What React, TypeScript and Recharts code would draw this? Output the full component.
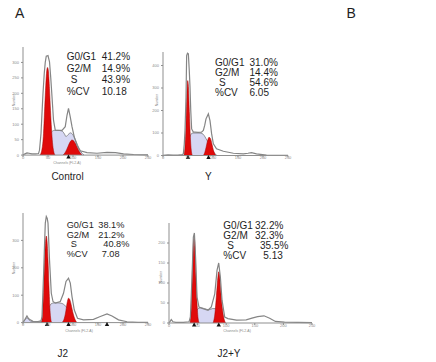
import React from "react";
import { Area, ComposedChart, Line, Scatter, XAxis, YAxis } from "recharts";

type Pt = [number, number];

const statLabels = ["G0/G1", "G2/M", "S", "%CV"];
const controlStats = ["41.2%", "14.9%", "43.9%", "10.18"];
const yStats = ["31.0%", "14.4%", "54.6%", "6.05"];
const j2Stats = ["38.1%", "21.2%", "40.8%", "7.08"];
const j2yStats = ["32.2%", "32.3%", "35.5%", "5.13"];

const channelTicks = [0, 50, 100, 150, 200, 250];

// Control
const controlRaw: Pt[] = [
  [0, 0], [4, 4], [8, 7], [12, 6], [18, 4], [25, 4], [31, 5], [33, 16], [36, 70],
  [38, 136], [40, 200], [42.5, 264], [44.5, 300], [46.5, 320], [50, 322], [53, 302],
  [55.5, 250], [58, 189], [61, 113], [64.5, 81], [71, 80], [78, 80], [84.5, 92],
  [88, 129], [91, 151], [94.5, 124], [98, 92], [102.5, 59], [108, 32], [114.5, 14],
  [128, 8], [148, 6], [168, 9], [185, 8], [201, 4], [221, 2], [250, 1],
];
const controlS: Pt[] = [
  [40, 0], [45, 20], [49, 45], [53, 65], [57, 75], [63, 80], [70, 80], [78, 78],
  [83, 68], [86, 60], [90, 66], [95, 72], [100, 65], [106, 45], [112, 22], [118, 6], [122, 0],
];
const controlG1: Pt[] = [
  [34, 0], [38, 20], [41, 70], [43, 140], [45, 210], [47, 265], [49, 284], [51, 270],
  [53, 215], [55, 145], [57, 85], [59, 40], [61, 15], [64, 0],
];
const controlG2: Pt[] = [
  [80, 0], [85, 10], [90, 28], [94, 42], [98, 49], [102, 45], [106, 34], [110, 20], [114, 8], [118, 0],
];
const controlMarks = [91];

// Y
const yRaw: Pt[] = [
  [0, 1], [10, 3], [20, 2], [30, 2], [38, 4], [40.7, 7], [42.5, 50], [44, 111], [46, 259],
  [47.3, 444], [49, 455], [50.7, 452], [52.5, 380], [54, 304], [55.5, 200], [57.3, 118],
  [60.7, 104], [64, 104], [70, 103], [77, 104], [80.7, 111], [83.5, 135], [86, 163],
  [90.7, 185], [94, 155], [97.3, 96], [100.7, 52], [107, 30], [120.7, 19], [140.7, 10],
  [160.7, 7], [170, 10], [177, 13], [187, 7], [207, 2], [250, 1],
];
const yS: Pt[] = [
  [44, 0], [48, 30], [52, 70], [56, 95], [60, 100], [66, 100], [72, 100], [78, 98],
  [82, 90], [86, 75], [90, 60], [95, 40], [100, 20], [105, 5], [108, 0],
];
const yG1: Pt[] = [
  [42, 0], [44, 40], [46, 140], [48, 290], [49.5, 333], [51, 300], [53, 180], [55, 70], [57, 15], [59, 0],
];
const yG2: Pt[] = [
  [80, 0], [83, 10], [86, 35], [89, 65], [92, 81], [95, 75], [98, 50], [101, 22], [104, 6], [106, 0],
];
const yMarks = [50, 91];

// J2
const j2Raw: Pt[] = [
  [0, 2], [4, 12], [7.9, 24], [11, 15], [14.6, 10], [20, 5], [30, 4], [36, 6], [38, 22],
  [41, 168], [43, 280], [44.6, 363], [46.6, 387], [48.5, 380], [50, 363], [53, 229],
  [56.6, 107], [60, 77], [64.6, 71], [74.6, 77], [81, 107], [86, 150], [91, 162],
  [94.6, 144], [98, 95], [102.6, 46], [109, 16], [121, 10], [141, 12], [154.6, 22],
  [168, 32], [178, 24], [191, 10], [208, 3], [230, 1], [250, 1],
];
const j2S: Pt[] = [
  [0, 0], [4, 10], [8, 18], [12, 10], [18, 4], [30, 3], [40, 3], [44, 8], [48, 30],
  [52, 55], [56, 68], [62, 72], [70, 72], [78, 70], [84, 62], [90, 50], [96, 30], [102, 10], [106, 0],
];
const j2G1: Pt[] = [
  [37, 0], [39, 30], [41, 110], [43, 220], [45, 295], [46.5, 316], [48, 300], [50, 230],
  [52, 130], [54, 45], [56, 8], [58, 0],
];
const j2G2: Pt[] = [
  [78, 0], [82, 12], [85, 35], [88, 70], [91, 89], [94, 82], [97, 60], [100, 35], [104, 12], [108, 0],
];
const j2Marks = [48, 91, 168];

// J2+Y
const j2yRaw: Pt[] = [
  [0, 1], [2, 4], [4, 8.5], [7, 3], [12, 1.5], [25, 1.5], [35, 3], [37.4, 15], [40.2, 115],
  [42.6, 215], [44.4, 225], [46.7, 157], [49, 65], [52.4, 40], [59.4, 36], [68.2, 32],
  [74, 40], [80, 73], [84, 132], [86.9, 150], [89.8, 115], [92.7, 57], [97.4, 15],
  [103, 11], [118, 7], [135, 8], [145, 12], [155, 16], [166, 18], [176, 12], [186, 4],
  [202, 2], [250, 1],
];
const j2yS: Pt[] = [
  [42, 0], [46, 20], [50, 35], [55, 38], [62, 36], [70, 33], [76, 36], [81, 36],
  [86, 25], [92, 10], [97, 0],
];
const j2yG1: Pt[] = [
  [37, 0], [39, 40], [41, 130], [43, 205], [44, 212], [45.5, 190], [47, 120], [49, 50], [51, 10], [53, 0],
];
const j2yG2: Pt[] = [
  [77, 0], [80, 20], [83, 70], [85.5, 115], [87, 128], [88.5, 118], [90.5, 80], [93, 40], [96, 12], [99, 0],
];
const j2yMarks = [44, 87];

const rows = (pts: Pt[]) => pts.map(([ch, n]) => ({ ch, n }));

const RED = "#e00a0a";
const LAVENDER = "#d6d7f3";
const FONT = "'Liberation Sans', Arial, sans-serif";

const Tri = (props: any) => {
  const { cx, cy } = props;
  return (
    <polygon
      points={`${cx},${cy - 0.5} ${cx - 2.2},${cy + 3.5} ${cx + 2.2},${cy + 3.5}`}
      fill="#111"
    />
  );
};

type PanelProps = {
  left: number;
  top: number;
  w: number;
  h: number;
  yMax: number;
  yTicks: number[];
  raw: Pt[];
  s: Pt[];
  g1: Pt[];
  g2: Pt[];
  marks: number[];
};

function Panel({ left, top, w, h, yMax, yTicks, raw, s, g1, g2, marks }: PanelProps) {
  const yw = 24;
  const mt = 4;
  const mr = 6;
  const xh = 14;
  const tick = { fontSize: 4, fill: "#8a8a8a", fontFamily: FONT };
  return (
    <div style={{ position: "absolute", left: left - yw, top: top - mt }}>
      <ComposedChart
        width={w + yw + mr}
        height={h + mt + xh}
        margin={{ top: mt, right: mr, bottom: 0, left: 0 }}
      >
        <XAxis
          dataKey="ch"
          type="number"
          domain={[0, 250]}
          ticks={channelTicks}
          height={xh}
          tick={{ ...tick, dy: -3 }}
          tickSize={2}
          stroke="#8f8f8f"
        />
        <YAxis
          dataKey="n"
          type="number"
          domain={[0, yMax]}
          ticks={yTicks}
          width={yw}
          tick={tick}
          tickSize={2}
          stroke="#8f8f8f"
        />
        <Area
          data={rows(s)}
          dataKey="n"
          type="monotone"
          fill={LAVENDER}
          fillOpacity={1}
          stroke="#555"
          strokeWidth={0.6}
          isAnimationActive={false}
        />
        <Area
          data={rows(g1)}
          dataKey="n"
          type="monotone"
          fill={RED}
          fillOpacity={1}
          stroke="#a00000"
          strokeWidth={0.5}
          isAnimationActive={false}
        />
        <Area
          data={rows(g2)}
          dataKey="n"
          type="monotone"
          fill={RED}
          fillOpacity={1}
          stroke="#a00000"
          strokeWidth={0.5}
          isAnimationActive={false}
        />
        <Line
          data={rows(raw)}
          dataKey="n"
          type="linear"
          stroke="#858585"
          strokeWidth={1.2}
          dot={false}
          isAnimationActive={false}
        />
        <Scatter
          data={marks.map((ch) => ({ ch, n: 0 }))}
          dataKey="n"
          shape={Tri}
          isAnimationActive={false}
        />
      </ComposedChart>
    </div>
  );
}

function Stats({
  x,
  vx,
  y,
  gap,
  size,
  values,
}: {
  x: number;
  vx: number[];
  y: number;
  gap: number;
  size: number;
  values: string[];
}) {
  return (
    <>
      {statLabels.map((label, i) => (
        <React.Fragment key={label}>
          <text x={label === "S" ? x + 4 : x} y={y + i * gap} fontSize={size}>
            {label}
          </text>
          <text x={vx[i]} y={y + i * gap} fontSize={size}>
            {values[i]}
          </text>
        </React.Fragment>
      ))}
    </>
  );
}

export default function App() {
  return (
    <div
      style={{
        position: "relative",
        width: 436,
        height: 362,
        background: "#fff",
        overflow: "hidden",
      }}
    >
      <style>{"body{margin:0}"}</style>
      <Panel left={22.7} top={46.9} w={125} h={108.1} yMax={350}
        yTicks={[0, 50, 100, 150, 200, 250, 300]}
        raw={controlRaw} s={controlS} g1={controlG1} g2={controlG2} marks={controlMarks} />
      <Panel left={163.3} top={51.5} w={125} h={103.5} yMax={460}
        yTicks={[0, 100, 200, 300, 400]}
        raw={yRaw} s={yS} g1={yG1} g2={yG2} marks={yMarks} />
      <Panel left={22.7} top={213.1} w={125} h={109.6} yMax={400}
        yTicks={[0, 100, 200, 300]}
        raw={j2Raw} s={j2S} g1={j2G1} g2={j2G2} marks={j2Marks} />
      <Panel left={169.3} top={222.7} w={143} h={100} yMax={250}
        yTicks={[0, 50, 100, 150, 200]}
        raw={j2yRaw} s={j2yS} g1={j2yG1} g2={j2yG2} marks={j2yMarks} />
      <svg
        width={436}
        height={362}
        style={{ position: "absolute", left: 0, top: 0, pointerEvents: "none" }}
        fontFamily={FONT}
        fill="#1e1e1e"
      >
        <text x={15} y={18.3} fontSize={14}>A</text>
        <text x={346.5} y={18.3} fontSize={14}>B</text>

        <Stats x={66.7} vx={[101.7, 101.7, 101.7, 101.7]} y={60.3} gap={11.5} size={10} values={controlStats} />
        <Stats x={215} vx={[249.5, 249.5, 249.5, 249.5]} y={65.6} gap={10} size={10} values={yStats} />
        <Stats x={66.7} vx={[98.3, 98.3, 103.3, 101.7]} y={228.2} gap={9.5} size={9.2} values={j2Stats} />
        <Stats x={223.3} vx={[255, 255, 260, 263.3]} y={228.6} gap={10} size={10} values={j2yStats} />

        <text x={67.5} y={180.3} fontSize={10} textAnchor="middle">Control</text>
        <text x={208.3} y={180.3} fontSize={10} textAnchor="middle">Y</text>
        <text x={62.8} y={357} fontSize={10} textAnchor="middle">J2</text>
        <text x={229} y={357} fontSize={10} textAnchor="middle">J2+Y</text>

        <g fill="#8a8a8a" fontSize={3.5}>
          <text x={67} y={164} textAnchor="middle">Channels (FL2-A)</text>
          <text x={79} y={331.5} textAnchor="middle">Channels (FL2-A)</text>
          <text x={237} y={331.5} textAnchor="middle">Channels (FL2-A)</text>
          <text transform="translate(14.5,100) rotate(-90)" textAnchor="middle">Number</text>
          <text transform="translate(158,100) rotate(-90)" textAnchor="middle">Number</text>
          <text transform="translate(14.5,268) rotate(-90)" textAnchor="middle">Number</text>
          <text transform="translate(162,277) rotate(-90)" textAnchor="middle">Number</text>
        </g>
      </svg>
    </div>
  );
}
